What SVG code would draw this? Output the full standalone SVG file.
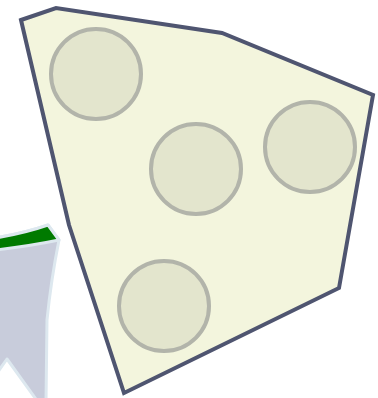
<svg xmlns="http://www.w3.org/2000/svg" width="378" height="398" viewBox="0 0 378 398">
<style>
.spot{fill:#e3e5cd;stroke:#b2b4aa;stroke-width:4}
</style>
<rect width="378" height="398" fill="#ffffff"/>
<g id="ribbon">
<path d="M-5,238 Q25,233 48,225 L59,240 Q51,280 47,320 L46,402 L38,402 L7,359 L-5,376 Z" fill="#c8ccdb" stroke="#dde8ef" stroke-width="3" stroke-linejoin="round"/>
<path d="M-5,238 Q25,233 48,225 L59,240 Q30,246 -5,250 Z" fill="#007a00" stroke="#dde8ef" stroke-width="3" stroke-linejoin="round"/>
</g>
<g id="region">
<path d="M21,20 L56,8 L222,33 L373,95 L339,288 L124,393 L69,225 Z" fill="#f3f5dd" stroke="#4f5570" stroke-width="4" stroke-linejoin="miter"/>
</g>
<g id="spot1"><circle class="spot" cx="96" cy="74" r="45"/></g>
<g id="spot2"><circle class="spot" cx="196" cy="169" r="45"/></g>
<g id="spot3"><circle class="spot" cx="310" cy="147" r="45"/></g>
<g id="spot4"><circle class="spot" cx="164" cy="306" r="45"/></g>
<g id="connectors"></g>
</svg>
